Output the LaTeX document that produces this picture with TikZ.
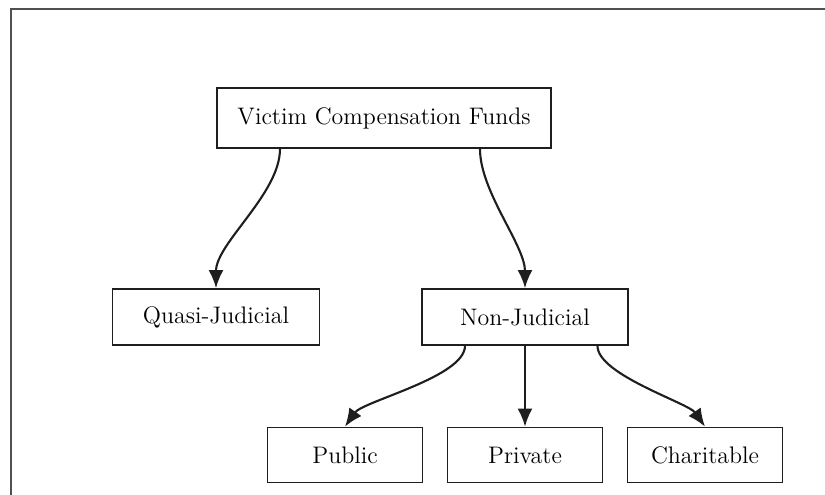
\documentclass[tikz,border=0pt]{standalone}
\usepackage{tikz}
\usetikzlibrary{arrows.meta,positioning}
\definecolor{framegray}{RGB}{80,80,80}
\definecolor{inkdark}{RGB}{30,30,30}

\begin{document}
\begin{tikzpicture}[
  fundbox/.style={draw=inkdark, line width=1pt, fill=white,
    font=\fontsize{13.6}{16}\selectfont, align=center, inner sep=0pt},
  arr/.style={-{Latex[length=3.6mm,width=3mm]}, line width=1.2pt, draw=inkdark}]
\useasboundingbox (0,0) rectangle (16.5,9.9);
% Frame (cut off at right and bottom)
\draw[framegray, line width=1.2pt] (0.22,-0.2) -- (0.22,9.72) -- (16.7,9.72);
% Nodes
\node[fundbox, minimum width=6.68cm, minimum height=1.2cm]  (root)    at (7.68,7.54) {Victim Compensation Funds};
\node[fundbox, minimum width=4.14cm, minimum height=1.12cm] (quasi)   at (4.32,3.56) {Quasi-Judicial};
\node[fundbox, minimum width=4.12cm, minimum height=1.12cm] (nonjud)  at (10.5,3.56) {Non-Judicial};
\node[fundbox, minimum width=3.1cm, minimum height=1.1cm]   (public)  at (6.9,0.8)   {Public};
\node[fundbox, minimum width=3.1cm, minimum height=1.1cm]   (private) at (10.5,0.8)  {Private};
\node[fundbox, minimum width=3.1cm, minimum height=1.1cm]   (charity) at (14.1,0.8)  {Charitable};
% Arrows
\draw[arr] ([xshift=-2.08cm]root.south) to[out=-90, in=90, looseness=0.75] (quasi.north);
\draw[arr] ([xshift=1.92cm]root.south)  to[out=-90, in=90, looseness=0.75] (nonjud.north);
\draw[arr] ([xshift=-1.2cm]nonjud.south) to[out=-90, in=55, looseness=0.55] (public.north);
\draw[arr] (nonjud.south) -- (private.north);
\draw[arr] ([xshift=1.45cm]nonjud.south) to[out=-90, in=125, looseness=0.55] (charity.north);
\end{tikzpicture}
\end{document}
